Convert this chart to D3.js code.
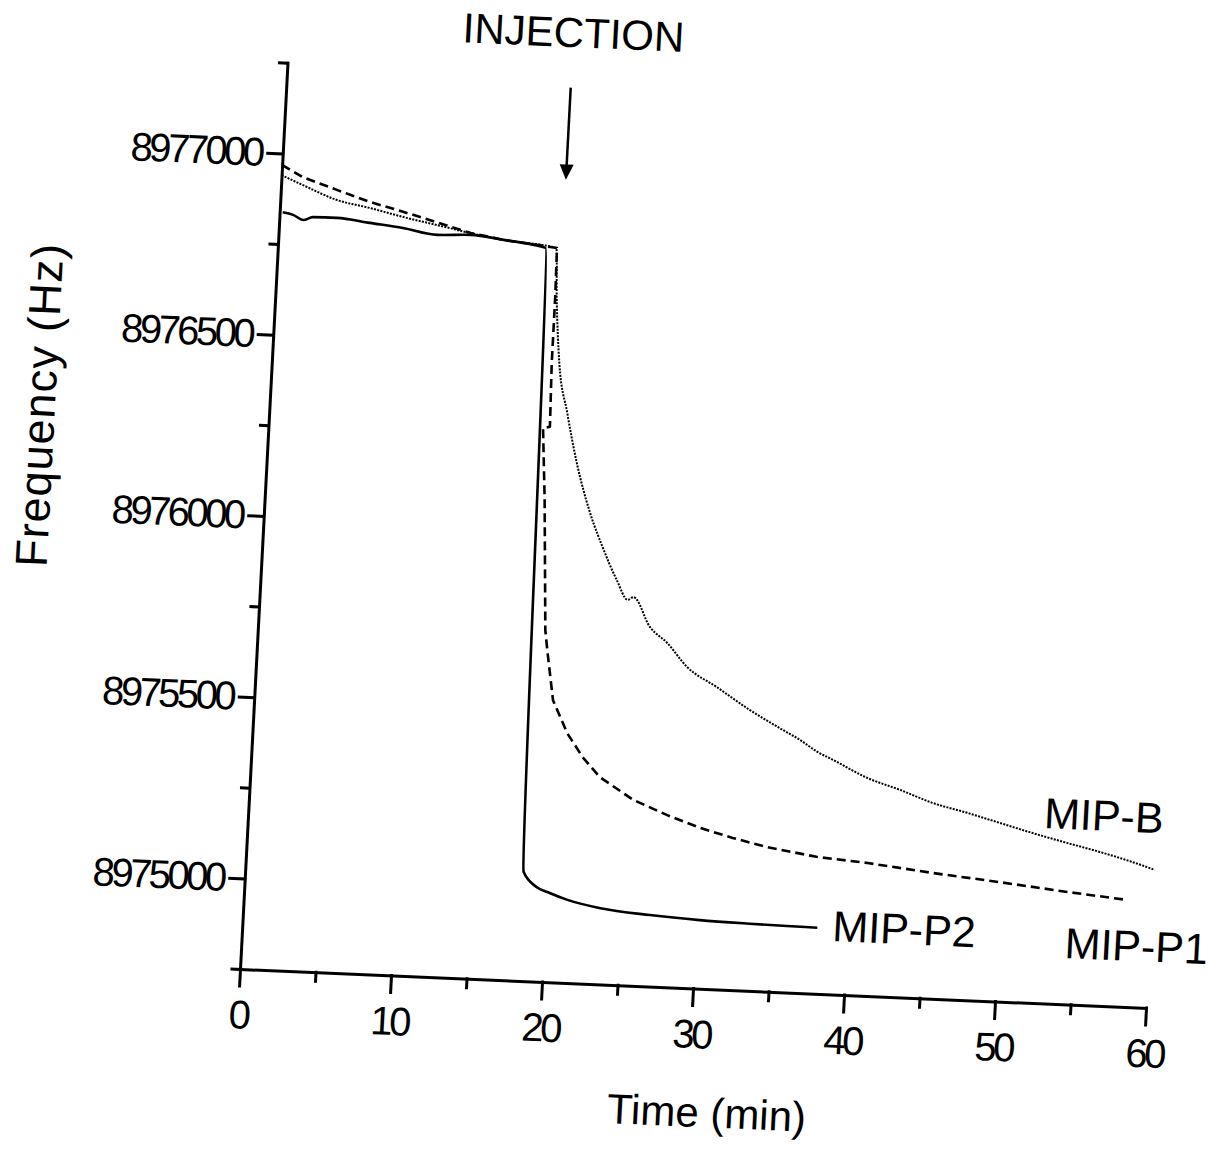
<!DOCTYPE html>
<html>
<head>
<meta charset="utf-8">
<script src="https://cdn.jsdelivr.net/npm/d3@7"></script>
<style>
    body { margin: 0; background: #fff; }
    text { font-family: "Liberation Sans", Arial, sans-serif; fill: #000; }
</style>
</head>
<body>
<div id="chart"></div>
<script>
// axis ticks
var timeTicks = [0, 10, 20, 30, 40, 50, 60];
var timeMinor = [5, 15, 25, 35, 45, 55];
var freqTicks = [8975000, 8975500, 8976000, 8976500, 8977000];
var freqMinor = [8974750, 8975250, 8975750, 8976250, 8976750, 8977250];

// MIP-P2 (solid)
var p2Time = [0.2, 0.9, 1.6, 2.2, 3.8, 6.0, 8.2, 10.5, 12.7, 14.9, 17.7, 18.4, 19.3, 20.2, 21.4, 23.6, 26.9, 30.2, 33.5, 36.0, 38.0];
var p2Freq = [8976838, 8976832, 8976819, 8976828, 8976829, 8976819, 8976809, 8976794, 8976798, 8976788, 8976771,
    8975051, 8975011, 8974996, 8974979, 8974960, 8974947, 8974939, 8974935, 8974933, 8974932];

// MIP-P1 (dashed)
var p1Time = [0, 1.4, 3.7, 5.9, 8.2, 10.4, 12.7, 14.9, 18.0, 18.45, 18.5, 18.5, 18.6, 18.15, 18.5, 19.0, 19.2, 19.75,
    20.8, 21.9, 23.1, 25.4, 27.7, 29.9, 32.1, 34.4, 37.7, 41.1, 45.5, 49.9, 54.4, 58.4];
var p1Freq = [8976968, 8976937, 8976906, 8976877, 8976853, 8976829, 8976803, 8976788, 8976774, 8976772, 8976637,
    8976455, 8976279, 8976275, 8976080, 8975719, 8975664, 8975527, 8975438, 8975374, 8975321, 8975262, 8975224,
    8975193, 8975169, 8975148, 8975127, 8975116, 8975096, 8975079, 8975060, 8975045];

// MIP-B (dotted)
var bTime = [0, 1.45, 3.75, 5.95, 8.2, 10.45, 12.65, 14.85, 18.2, 18.4, 18.6, 19.0, 19.7, 20.5, 21.55, 22.5, 23.55,
    24.35, 24.7, 25.9, 27.1, 28.5, 30.5, 32.8, 35.05, 36.2, 37.4, 38.5, 40.8, 43.0, 45.2, 47.5, 49.7, 51.9, 54.2,
    56.4, 58.6, 60.1];
var bFreq = [8976940, 8976915, 8976878, 8976860, 8976839, 8976821, 8976803, 8976788, 8976774, 8976772, 8976637,
    8976456, 8976319, 8976183, 8976047, 8975954, 8975865, 8975812, 8975820, 8975740, 8975698, 8975634, 8975583,
    8975523, 8975472, 8975447, 8975416, 8975395, 8975350, 8975321, 8975289, 8975266, 8975242, 8975218, 8975195,
    8975174, 8975150, 8975131];

var injectionTime = 18.8;

var WIDTH = 1218, HEIGHT = 1149,
    W = 906, H = 906.25;

var svg = d3.select("#chart").append("svg")
    .attr("width", WIDTH)
    .attr("height", HEIGHT);

svg.append("rect").attr("width", WIDTH).attr("height", HEIGHT).attr("fill", "#fff");

// the scanned figure is slightly tilted, so the whole plot sits in a skewed frame
var plot = svg.append("g")
    .attr("transform", "matrix(1,0.043,-0.0524,1,287.5,62.75)");

var x = d3.scaleLinear().domain([0, 60]).range([0, W]);
var y = d3.scaleLinear().domain([8974750, 8977250]).range([H, 0]);

function styleAxis(sel) {
    sel.selectAll("line,path").attr("stroke", "#000").attr("stroke-width", 3).attr("stroke-linecap", "square");
    sel.selectAll("text")
        .attr("font-size", 40)
        .attr("letter-spacing", -3.5)
        .attr("fill", "#000");
}

// minor ticks
plot.append("g")
    .attr("transform", "translate(0," + H + ")")
    .call(d3.axisBottom(x).tickValues(timeMinor).tickSize(9).tickFormat(""))
    .call(function (g) { g.select(".domain").remove(); })
    .call(styleAxis);

plot.append("g")
    .call(d3.axisLeft(y).tickValues(freqMinor).tickSize(8).tickFormat(""))
    .call(function (g) { g.select(".domain").remove(); })
    .call(styleAxis);

// major axes
plot.append("g")
    .attr("transform", "translate(0," + H + ")")
    .call(d3.axisBottom(x).tickValues(timeTicks).tickSize(17).tickPadding(14).tickSizeOuter(0))
    .call(styleAxis);

plot.append("g")
    .call(d3.axisLeft(y).tickValues(freqTicks).tickSize(15).tickPadding(6)
        .tickFormat(d3.format("d")).tickSizeOuter(0))
    .call(styleAxis);

// curves
var series = [
    { time: bTime, freq: bFreq, width: 2, dash: "2,1.3", curve: d3.curveMonotoneX },
    { time: p1Time, freq: p1Freq, width: 2.6, dash: "9,5", curve: d3.curveLinear },
    { time: p2Time, freq: p2Freq, width: 2.6, dash: null, curve: d3.curveMonotoneX }
];

series.forEach(function (s) {
    var line = d3.line()
        .curve(s.curve)
        .x(function (d) { return x(d[0]); })
        .y(function (d) { return y(d[1]); });

    plot.append("path")
        .datum(d3.zip(s.time, s.freq))
        .attr("fill", "none")
        .attr("stroke", "#000")
        .attr("stroke-width", s.width)
        .attr("stroke-linejoin", "round")
        .attr("stroke-dasharray", s.dash)
        .attr("d", line);
});

// curve labels
var labels = [
    { text: "MIP-B", t: 52.6, f: 8975233 },
    { text: "MIP-P2", t: 39.0, f: 8974897 },
    { text: "MIP-P1", t: 54.4, f: 8974878 }
];
plot.selectAll(".curve-label")
    .data(labels)
    .enter().append("text")
    .attr("class", "curve-label")
    .attr("x", function (d) { return x(d.t); })
    .attr("y", function (d) { return y(d.f); })
    .attr("font-size", 43)
    .text(function (d) { return d.text; });

// injection marker
var ax = x(injectionTime);
plot.append("line")
    .attr("x1", ax).attr("y1", y(8977215))
    .attr("x2", ax).attr("y2", y(8977000))
    .attr("stroke", "#000").attr("stroke-width", 2.5);
plot.append("path")
    .attr("d", "M" + (ax - 7) + "," + y(8977003) + "L" + (ax + 7) + "," + y(8977003) +
        "L" + ax + "," + y(8976961) + "Z")
    .attr("fill", "#000");

plot.append("text")
    .attr("x", x(11.46))
    .attr("y", y(8977327))
    .attr("font-size", 42)
    .text("INJECTION");

// axis titles
plot.append("text")
    .attr("x", W / 2 + 20)
    .attr("y", H + 138)
    .attr("text-anchor", "middle")
    .attr("font-size", 42)
    .text("Time (min)");

plot.append("text")
    .attr("transform", "translate(-214," + 352 + ")rotate(-90)")
    .attr("text-anchor", "middle")
    .attr("font-size", 45)
    .attr("letter-spacing", 1)
    .text("Frequency (Hz)");
</script>
</body>
</html>
